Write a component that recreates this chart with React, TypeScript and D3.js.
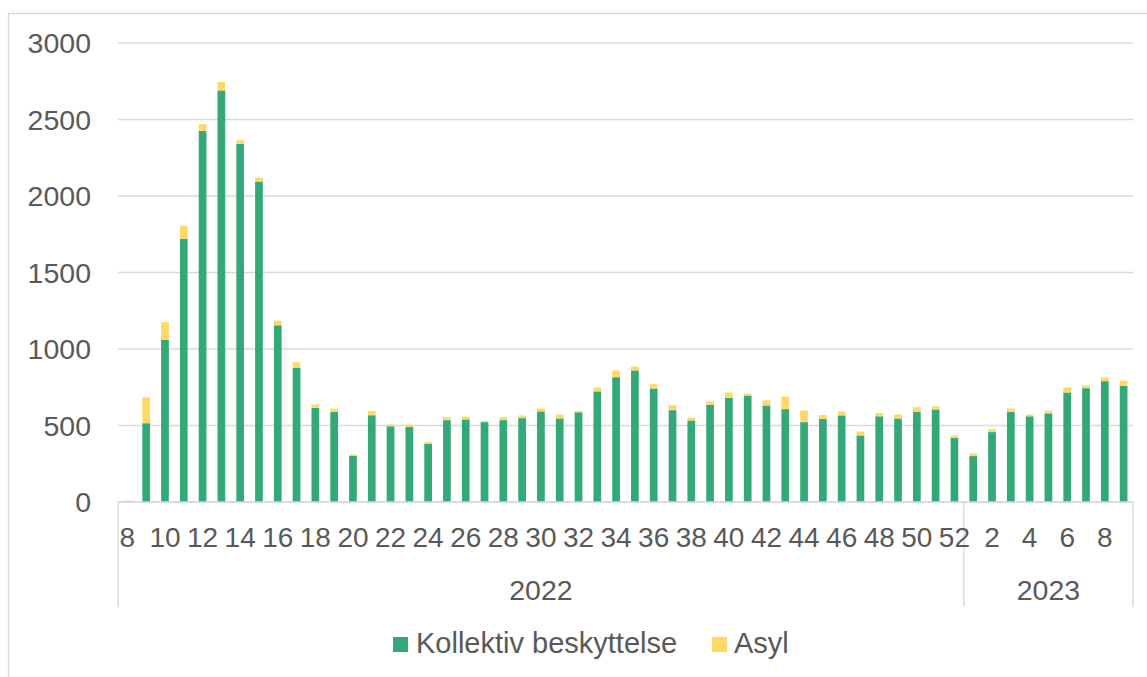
import React from "react";
import * as d3 from "d3";

const weeks2022: number[] = [8,9,10,11,12,13,14,15,16,17,18,19,20,21,22,23,24,25,26,27,28,29,30,31,32,33,34,35,36,37,38,39,40,41,42,43,44,45,46,47,48,49,50,51,52];
const weeks2023: number[] = [1,2,3,4,5,6,7,8,9];

const kollektiv2022: number[] = [0,515,1060,1720,2425,2690,2340,2095,1155,877,615,590,303,567,495,490,380,535,540,522,535,548,592,546,586,723,816,860,742,600,533,636,681,696,631,607,522,544,566,435,560,546,588,605,418];
const kollektiv2023: number[] = [300,457,588,560,579,716,744,790,760];
const asyl2022: number[] = [10,170,115,85,45,55,25,25,30,37,22,20,8,28,12,15,13,20,18,7,20,18,18,26,10,26,44,26,28,32,18,21,35,13,33,83,76,24,26,26,21,26,32,21,17];
const asyl2023: number[] = [18,19,22,12,17,33,18,24,34];

const yTicks: number[] = [0, 500, 1000, 1500, 2000, 2500, 3000];
const years: string[] = ["2022", "2023"];
const seriesNames: string[] = ["Kollektiv beskyttelse", "Asyl"];
const colors: string[] = ["#33A878", "#FFD966"];

type Row = { key: string; year: string; week: number; k: number; a: number };

const rows: Row[] = [
  ...weeks2022.map((w, i) => ({ key: `2022-${w}`, year: "2022", week: w, k: kollektiv2022[i], a: asyl2022[i] })),
  ...weeks2023.map((w, i) => ({ key: `2023-${w}`, year: "2023", week: w, k: kollektiv2023[i], a: asyl2023[i] })),
];

const W = 1147;
const H = 677;
const left = 118;
const right = 1133;
const top = 43;
const bottom = 502;
const font = "'Liberation Sans', Arial, sans-serif";
const textColor = "#595959";
const gridColor = "#D9D9D9";

export default function App() {
  const x = d3
    .scaleBand<string>()
    .domain(rows.map((r) => r.key))
    .range([left, right])
    .paddingInner(0.59)
    .paddingOuter(0.295);
  const y = d3.scaleLinear().domain([0, 3000]).range([bottom, top]);
  const step = x.step();

  const stack = d3
    .stack<Row>()
    .keys(["k", "a"])
    .value((d, key) => (d as any)[key]);
  const stacked = stack(rows);

  const groups = years.map((yr) => {
    const rs = rows.filter((r) => r.year === yr);
    const x0 = (x(rs[0].key) as number) - (step - x.bandwidth()) / 2;
    const x1 = (x(rs[rs.length - 1].key) as number) + x.bandwidth() + (step - x.bandwidth()) / 2;
    return { yr, x0, x1 };
  });

  return (
    <svg width={W} height={H} style={{ position: "absolute", left: 0, top: 0, background: "#fff" }}>
      <rect x={0} y={0} width={W} height={H} fill="#fff" />
      <line x1={8.5} y1={13} x2={8.5} y2={H} stroke={gridColor} strokeWidth={1.3} />
      <line x1={8} y1={13.5} x2={W} y2={13.5} stroke={gridColor} strokeWidth={1.3} />

      {yTicks.map((t) => (
        <line key={t} x1={left} x2={right} y1={y(t)} y2={y(t)} stroke={gridColor} strokeWidth={1.4} />
      ))}
      {yTicks.map((t) => (
        <text key={"l" + t} x={91} y={y(t)} dy="0.36em" textAnchor="end" fontFamily={font} fontSize={28.5} fill={textColor}>
          {t}
        </text>
      ))}

      {stacked.map((s, si) => (
        <g key={s.key} fill={colors[si]}>
          {s.map((d, i) => (
            <rect
              key={rows[i].key}
              x={x(rows[i].key)}
              width={x.bandwidth()}
              y={y(d[1])}
              height={Math.max(0, y(d[0]) - y(d[1]))}
            />
          ))}
        </g>
      ))}

      <line x1={left} x2={right} y1={bottom} y2={bottom} stroke={gridColor} strokeWidth={1.4} />
      {groups.map((g, i) => (
        <g key={g.yr}>
          {i === 0 && <line x1={g.x0} x2={g.x0} y1={bottom} y2={607} stroke={gridColor} strokeWidth={1.4} />}
          <line x1={g.x1} x2={g.x1} y1={bottom} y2={607} stroke={gridColor} strokeWidth={1.4} />
          <text x={(g.x0 + g.x1) / 2} y={600} textAnchor="middle" fontFamily={font} fontSize={28.5} fill={textColor}>
            {g.yr}
          </text>
        </g>
      ))}
      {rows
        .filter((r) => r.week % 2 === 0)
        .map((r) => (
          <text
            key={"t" + r.key}
            x={(x(r.key) as number) + x.bandwidth() / 2}
            y={547}
            textAnchor="middle"
            fontFamily={font}
            fontSize={28}
            fill={textColor}
          >
            {r.week}
          </text>
        ))}

      <rect x={393} y={637} width={15} height={15} fill={colors[0]} />
      <text x={416} y={653} fontFamily={font} fontSize={29} fill={textColor}>
        {seriesNames[0]}
      </text>
      <rect x={712} y={637} width={15} height={15} fill={colors[1]} />
      <text x={734} y={653} fontFamily={font} fontSize={29} fill={textColor}>
        {seriesNames[1]}
      </text>
    </svg>
  );
}
